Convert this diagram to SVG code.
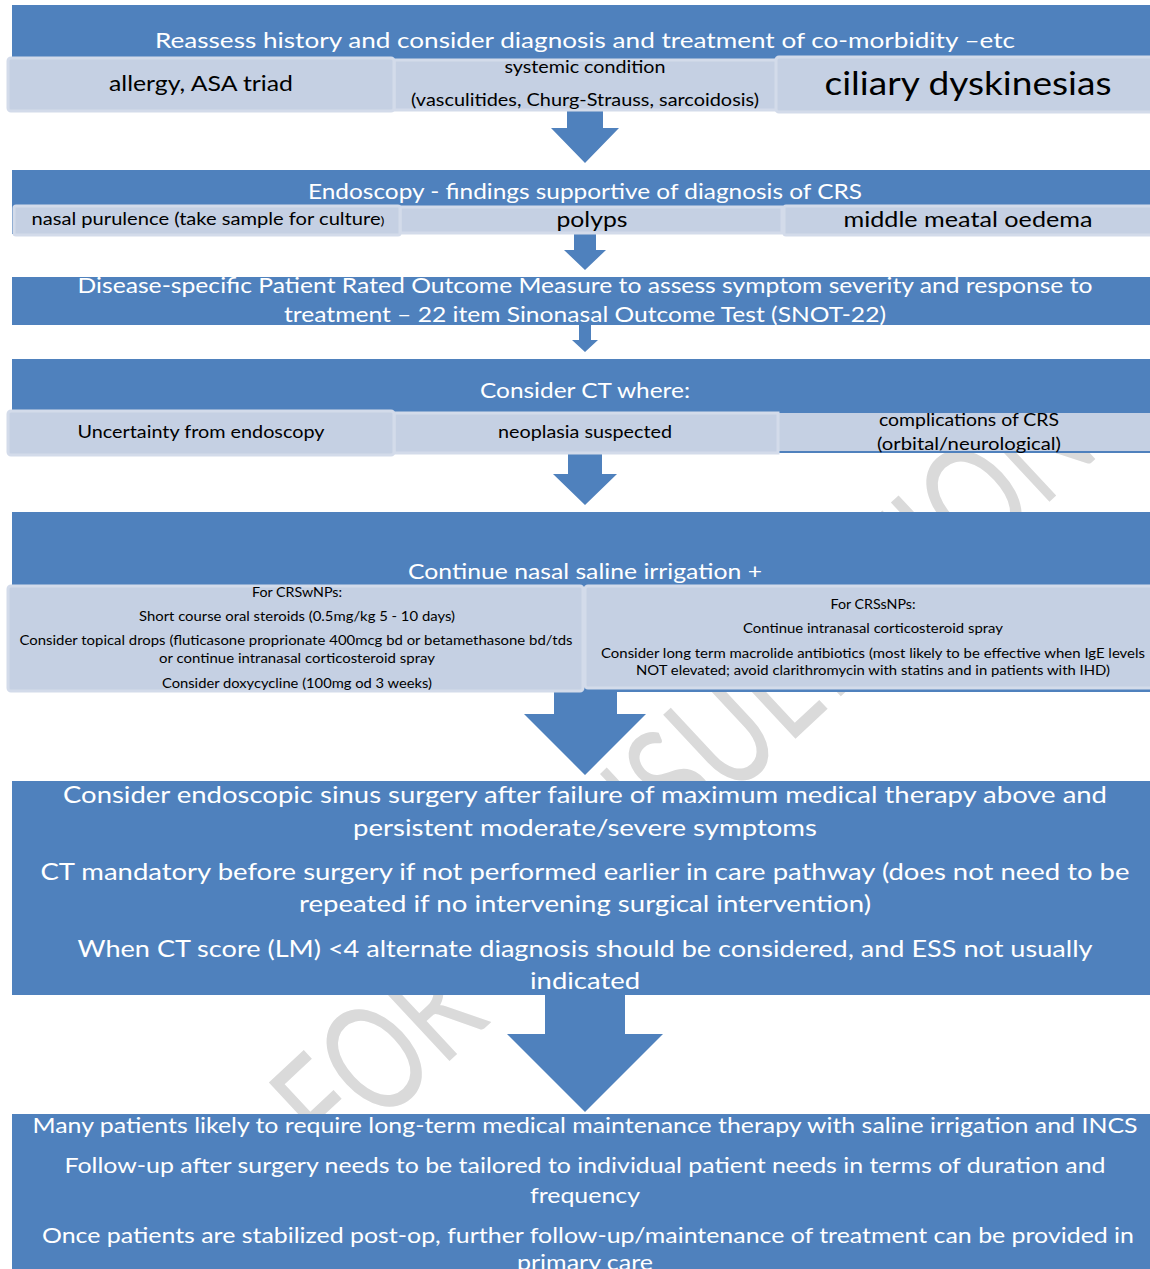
<svg xmlns="http://www.w3.org/2000/svg" width="1150" height="1269" viewBox="0 0 1150 1269">
<style>
  .blue{fill:#4f81bd}
  .sub{fill:#c5d0e3;stroke:#d3dbea;stroke-width:3}
  .subf{fill:#c5d0e3}
  .wt{fill:#ffffff;font-family:Lato,"Liberation Sans",sans-serif;text-anchor:middle}
  .bt{fill:#000000;font-family:Lato,"Liberation Sans",sans-serif;text-anchor:middle}
  .arrow{fill:#4f81bd}
  .wm{fill:#dadada;font-family:Lato,"Liberation Sans",sans-serif;font-weight:400}
</style>
<rect width="1150" height="1269" fill="#ffffff"/>
<g id="watermark">
  <text class="wm" font-size="150" transform="translate(335,1168) rotate(-43) scale(0.72,1)">FOR CONSULTATION</text>
</g>
<g id="connectors">
  <polygon class="arrow" points="567,108 603,108 603,128 619,128 585,163 551,128 567,128"/>
  <polygon class="arrow" points="574,233 596,233 596,250 606,250 585,270 564,250 574,250"/>
  <polygon class="arrow" points="579,323 591,323 591,340 598,340 585,352 572,340 579,340"/>
  <polygon class="arrow" points="568,452 602,452 602,474 617,474 585,505 553,474 568,474"/>
  <polygon class="arrow" points="554,688 617,688 617,714 646,714 585,775 524,714 554,714"/>
  <polygon class="arrow" points="545,993 625,993 625,1034 663,1034 585,1112 507,1034 545,1034"/>
</g>
<g id="node-reassess">
  <rect class="blue" x="12" y="5" width="1138" height="105"/>
  <text class="wt" x="585" y="48" font-size="22" textLength="860" lengthAdjust="spacingAndGlyphs">Reassess history and consider diagnosis and treatment of co-morbidity –etc</text>
  <rect class="sub" x="394" y="60" width="386" height="50"/>
  <rect class="sub" x="8" y="58" width="386" height="53" rx="3"/>
  <rect class="sub" x="776" y="57" width="380" height="55" rx="3"/>
  <text class="bt" x="201" y="91" font-size="21" textLength="184" lengthAdjust="spacingAndGlyphs">allergy, ASA triad</text>
  <text class="bt" x="585" y="73" font-size="16.5" textLength="161" lengthAdjust="spacingAndGlyphs">systemic condition</text>
  <text class="bt" x="585" y="106" font-size="16.5" textLength="348" lengthAdjust="spacingAndGlyphs">(vasculitides, Churg-Strauss, sarcoidosis)</text>
  <text class="bt" x="968" y="95" font-size="32" textLength="287" lengthAdjust="spacingAndGlyphs">ciliary dyskinesias</text>
</g>
<g id="node-endoscopy">
  <rect class="blue" x="12" y="170" width="1138" height="64"/>
  <text class="wt" x="585" y="199" font-size="21" textLength="554" lengthAdjust="spacingAndGlyphs">Endoscopy - findings supportive of diagnosis of CRS</text>
  <rect class="sub" x="400" y="207" width="382" height="26"/>
  <rect class="sub" x="784" y="206" width="370" height="29" rx="2"/>
  <rect class="sub" x="14" y="206" width="386" height="29" rx="2"/>
  <text class="bt" x="208" y="225" font-size="16.5" textLength="353" lengthAdjust="spacingAndGlyphs">nasal purulence (take sample for culture<tspan font-size="12">)</tspan></text>
  <text class="bt" x="592" y="227" font-size="22" textLength="71" lengthAdjust="spacingAndGlyphs">polyps</text>
  <text class="bt" x="968" y="227" font-size="22" textLength="249" lengthAdjust="spacingAndGlyphs">middle meatal oedema</text>
</g>
<g id="node-snot">
  <rect class="blue" x="12" y="277" width="1138" height="48"/>
  <text class="wt" x="585" y="293" font-size="21" textLength="1015" lengthAdjust="spacingAndGlyphs">Disease-specific Patient Rated Outcome Measure to assess symptom severity and response to</text>
  <text class="wt" x="585" y="322" font-size="21" textLength="602" lengthAdjust="spacingAndGlyphs">treatment – 22 item Sinonasal Outcome Test (SNOT-22)</text>
</g>
<g id="node-ct">
  <rect class="blue" x="12" y="359" width="1138" height="94"/>
  <text class="wt" x="585" y="398" font-size="21" textLength="210" lengthAdjust="spacingAndGlyphs">Consider CT where:</text>
  <rect class="subf" x="778" y="413" width="372" height="38"/>
  <rect class="sub" x="394" y="413" width="384" height="40"/>
  <rect class="sub" x="8" y="411" width="386" height="44" rx="3"/>
  <text class="bt" x="201" y="438" font-size="18" textLength="247" lengthAdjust="spacingAndGlyphs">Uncertainty from endoscopy</text>
  <text class="bt" x="585" y="438" font-size="18" textLength="174" lengthAdjust="spacingAndGlyphs">neoplasia suspected</text>
  <text class="bt" x="969" y="426" font-size="17.5" textLength="180" lengthAdjust="spacingAndGlyphs">complications of CRS</text>
  <text class="bt" x="969" y="450" font-size="17.5" textLength="184" lengthAdjust="spacingAndGlyphs">(orbital/neurological)</text>
</g>
<g id="node-continue">
  <rect class="blue" x="12" y="512" width="1138" height="180"/>
  <text class="wt" x="585" y="579" font-size="21" textLength="354" lengthAdjust="spacingAndGlyphs">Continue nasal saline irrigation +</text>
  <rect class="sub" x="8" y="586" width="575" height="105" rx="3"/>
  <rect class="sub" x="585" y="586" width="570" height="102" rx="3"/>
  <text class="bt" x="297" y="597" font-size="13" textLength="90" lengthAdjust="spacingAndGlyphs">For CRSwNPs:</text>
  <text class="bt" x="297" y="621" font-size="13" textLength="316" lengthAdjust="spacingAndGlyphs">Short course oral steroids (0.5mg/kg 5 - 10 days)</text>
  <text class="bt" x="296" y="645" font-size="13" textLength="553" lengthAdjust="spacingAndGlyphs">Consider topical drops (fluticasone proprionate 400mcg bd or betamethasone bd/tds</text>
  <text class="bt" x="297" y="663" font-size="13" textLength="276" lengthAdjust="spacingAndGlyphs">or continue intranasal corticosteroid spray</text>
  <text class="bt" x="297" y="688" font-size="13" textLength="270" lengthAdjust="spacingAndGlyphs">Consider doxycycline (100mg od 3 weeks)</text>
  <text class="bt" x="873" y="609" font-size="13" textLength="85" lengthAdjust="spacingAndGlyphs">For CRSsNPs:</text>
  <text class="bt" x="873" y="633" font-size="13" textLength="260" lengthAdjust="spacingAndGlyphs">Continue intranasal corticosteroid spray</text>
  <text class="bt" x="873" y="658" font-size="13" textLength="544" lengthAdjust="spacingAndGlyphs">Consider long term macrolide antibiotics (most likely to be effective when IgE levels</text>
  <text class="bt" x="873" y="675" font-size="13" textLength="474" lengthAdjust="spacingAndGlyphs">NOT elevated; avoid clarithromycin with statins and in patients with IHD)</text>
</g>
<g id="node-surgery">
  <rect class="blue" x="12" y="781" width="1138" height="214"/>
  <text class="wt" x="585" y="803" font-size="24" textLength="1044" lengthAdjust="spacingAndGlyphs">Consider endoscopic sinus surgery after failure of maximum medical therapy above and</text>
  <text class="wt" x="585" y="836" font-size="24" textLength="464" lengthAdjust="spacingAndGlyphs">persistent moderate/severe symptoms</text>
  <text class="wt" x="585" y="880" font-size="24" textLength="1089" lengthAdjust="spacingAndGlyphs">CT mandatory before surgery if not performed earlier in care pathway (does not need to be</text>
  <text class="wt" x="585" y="912" font-size="24" textLength="572" lengthAdjust="spacingAndGlyphs">repeated if no intervening surgical intervention)</text>
  <text class="wt" x="585" y="957" font-size="24" textLength="1015" lengthAdjust="spacingAndGlyphs">When CT score (LM) &lt;4 alternate diagnosis should be considered, and ESS not usually</text>
  <text class="wt" x="585" y="989" font-size="24" textLength="110" lengthAdjust="spacingAndGlyphs">indicated</text>
</g>
<g id="node-maintenance">
  <rect class="blue" x="12" y="1114" width="1138" height="155"/>
  <text class="wt" x="585" y="1133" font-size="21.5" textLength="1105" lengthAdjust="spacingAndGlyphs">Many patients likely to require long-term medical maintenance therapy with saline irrigation and INCS</text>
  <text class="wt" x="585" y="1173" font-size="21.5" textLength="1041" lengthAdjust="spacingAndGlyphs">Follow-up after surgery needs to be tailored to individual patient needs in terms of duration and</text>
  <text class="wt" x="585" y="1203" font-size="21.5" textLength="110" lengthAdjust="spacingAndGlyphs">frequency</text>
  <text class="wt" x="588" y="1243" font-size="21.5" textLength="1092" lengthAdjust="spacingAndGlyphs">Once patients are stabilized post-op, further follow-up/maintenance of treatment can be provided in</text>
  <text class="wt" x="585" y="1270" font-size="21.5" textLength="136" lengthAdjust="spacingAndGlyphs">primary care</text>
</g>
</svg>
